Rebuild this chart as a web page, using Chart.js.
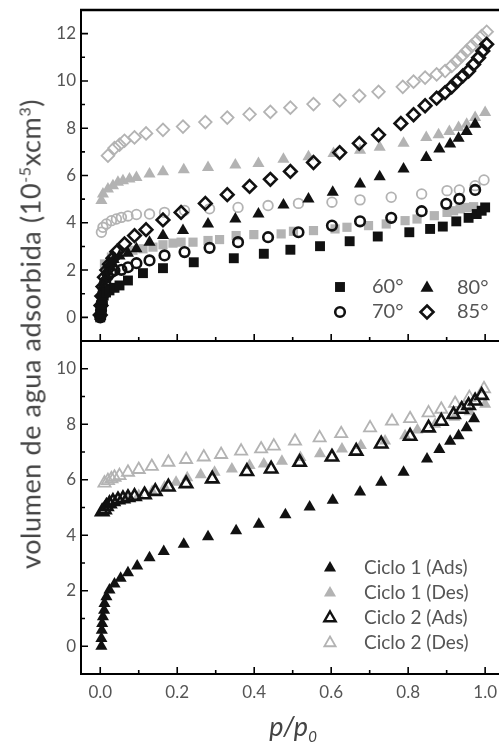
<!DOCTYPE html>
<html>
<head>
<meta charset="utf-8">
<script src="https://cdn.jsdelivr.net/npm/chart.js@4.4.0/dist/chart.umd.min.js"></script>
<style>
  body { margin: 0; background: #fff; width: 499px; height: 742px; overflow: hidden; position: relative; font-family: Lato, sans-serif; }
  canvas { position: absolute; left: 0; }
  #top { top: 0; }
  #bot { top: 341px; }
  #ytitle { position: absolute; left: 30px; top: 334px; transform: translate(-50%, -50%) rotate(-90deg);
            white-space: nowrap; font-size: 27px; letter-spacing: 0.6px; color: #444; line-height: 1; }
  #ytitle sup { font-size: 16px; vertical-align: 10px; line-height: 0; }
  #xtitle { position: absolute; left: 293px; top: 712px; transform: translateX(-50%); white-space: nowrap;
            font-size: 27px; font-style: italic; color: #444; line-height: 1; }
  #xtitle sub { font-size: 15px; vertical-align: -6px; line-height: 0; }
</style>
</head>
<body>
<canvas id="top" width="499" height="342"></canvas>
<canvas id="bot" width="499" height="401"></canvas>
<div id="ytitle">volumen de agua adsorbida (10<sup>-5</sup>xcm<sup>3</sup>)</div>
<div id="xtitle">p/p<sub>0</sub></div>
<script>
// ---- data (p/p0, volume) ----
const ads60 = [[0,0],[0.002,0.15],[0.003,0.35],[0.004,0.55],[0.006,0.75],[0.009,0.92],[0.015,1.05],[0.024,1.14],[0.037,1.25],[0.05,1.35],[0.072,1.56],[0.111,1.87],[0.163,2.08],[0.243,2.33],[0.347,2.50],[0.425,2.69],[0.494,2.86],[0.571,3.01],[0.648,3.22],[0.721,3.42],[0.803,3.60],[0.857,3.74],[0.890,3.84],[0.925,4.06],[0.957,4.21],[0.978,4.37],[0.991,4.51],[1.0,4.65]];
const des60 = [[0.011,2.26],[0.029,2.55],[0.059,2.76],[0.085,2.84],[0.111,2.90],[0.137,2.97],[0.163,3.07],[0.189,3.14],[0.210,3.18],[0.241,3.18],[0.280,3.25],[0.310,3.29],[0.353,3.46],[0.399,3.50],[0.470,3.53],[0.502,3.64],[0.554,3.67],[0.610,3.74],[0.641,3.81],[0.697,3.88],[0.743,3.95],[0.792,4.09],[0.823,4.16],[0.868,4.30],[0.901,4.44],[0.918,4.51],[0.935,4.59],[0.952,4.65],[0.970,4.68]];
const ads70 = [[0,0],[0.002,0.3],[0.004,0.6],[0.006,0.9],[0.009,1.2],[0.013,1.5],[0.02,1.75],[0.028,1.9],[0.037,1.98],[0.055,2.01],[0.072,2.12],[0.094,2.29],[0.128,2.41],[0.167,2.62],[0.219,2.76],[0.284,2.94],[0.358,3.18],[0.436,3.39],[0.515,3.60],[0.602,3.88],[0.675,4.06],[0.756,4.21],[0.835,4.49],[0.899,4.80],[0.933,5.01],[0.974,5.39]];
const des70 = [[0.003,3.60],[0.007,3.81],[0.016,3.95],[0.029,4.09],[0.042,4.16],[0.055,4.23],[0.072,4.29],[0.094,4.35],[0.128,4.37],[0.167,4.44],[0.219,4.52],[0.284,4.59],[0.358,4.65],[0.436,4.73],[0.515,4.82],[0.602,4.87],[0.675,4.97],[0.756,5.08],[0.835,5.22],[0.901,5.36],[0.933,5.39],[0.974,5.57],[0.997,5.81]];
const ads80 = [[0,0.05],[0.002,0.4],[0.004,0.8],[0.007,1.2],[0.011,1.6],[0.016,1.95],[0.024,2.25],[0.035,2.45],[0.05,2.6],[0.072,2.71],[0.094,2.90],[0.128,3.18],[0.163,3.46],[0.215,3.67],[0.280,3.95],[0.351,4.16],[0.411,4.37],[0.476,4.75],[0.541,5.01],[0.604,5.29],[0.675,5.64],[0.726,5.95],[0.788,6.27],[0.847,6.76],[0.881,7.12],[0.909,7.33],[0.931,7.58],[0.952,7.86],[0.974,8.17]];
const des80 = [[0.003,4.94],[0.007,5.22],[0.020,5.43],[0.033,5.57],[0.046,5.71],[0.059,5.78],[0.076,5.85],[0.094,5.92],[0.128,6.06],[0.163,6.16],[0.217,6.24],[0.280,6.34],[0.351,6.44],[0.411,6.51],[0.476,6.69],[0.541,6.79],[0.606,6.93],[0.675,7.07],[0.726,7.19],[0.788,7.36],[0.847,7.61],[0.879,7.72],[0.907,7.86],[0.931,8.03],[0.952,8.17],[0.974,8.45],[1.0,8.66]];
const ads85 = [[0,0.1],[0.002,0.5],[0.004,0.9],[0.007,1.3],[0.011,1.7],[0.017,2.0],[0.024,2.25],[0.033,2.5],[0.043,2.78],[0.063,3.11],[0.089,3.46],[0.119,3.71],[0.163,4.12],[0.210,4.44],[0.273,4.82],[0.330,5.19],[0.388,5.54],[0.442,5.84],[0.494,6.17],[0.554,6.55],[0.622,6.97],[0.673,7.36],[0.723,7.72],[0.781,8.20],[0.814,8.57],[0.844,8.95],[0.874,9.27],[0.896,9.51],[0.913,9.75],[0.926,9.97],[0.942,10.21],[0.957,10.42],[0.970,10.70],[0.983,10.98],[0.994,11.27],[1.004,11.55]];
const des85 = [[0.020,6.84],[0.037,7.16],[0.050,7.30],[0.063,7.47],[0.089,7.61],[0.119,7.78],[0.163,7.93],[0.215,8.07],[0.273,8.26],[0.330,8.45],[0.388,8.59],[0.442,8.69],[0.494,8.87],[0.554,9.02],[0.622,9.18],[0.673,9.37],[0.723,9.54],[0.786,9.75],[0.814,9.97],[0.844,10.14],[0.874,10.28],[0.896,10.42],[0.913,10.63],[0.926,10.84],[0.939,11.05],[0.952,11.27],[0.965,11.48],[0.978,11.69],[0.991,11.90],[1.004,12.08]];

const ads1 = [[0.003,0],[0.003,0.28],[0.004,0.58],[0.005,0.82],[0.007,1.06],[0.010,1.30],[0.011,1.54],[0.016,1.78],[0.024,2.03],[0.037,2.24],[0.053,2.45],[0.072,2.65],[0.096,2.89],[0.128,3.19],[0.165,3.41],[0.217,3.68],[0.280,3.95],[0.353,4.16],[0.412,4.40],[0.481,4.74],[0.544,5.02],[0.604,5.26],[0.675,5.56],[0.730,5.91],[0.788,6.27],[0.849,6.75],[0.881,7.09],[0.909,7.39],[0.931,7.59],[0.952,7.87],[0.971,8.20]];
const des1 = [[0.008,4.95],[0.02,5.1],[0.04,5.22],[0.07,5.32],[0.1,5.43],[0.135,5.58],[0.167,5.74],[0.197,5.91],[0.226,6.07],[0.261,6.18],[0.297,6.27],[0.342,6.39],[0.388,6.51],[0.425,6.57],[0.472,6.67],[0.52,6.80],[0.571,6.94],[0.628,7.11],[0.677,7.23],[0.74,7.40],[0.792,7.59],[0.824,7.79],[0.87,8.0],[0.92,8.25],[0.96,8.45],[1.0,8.72]];
const ads2 = [[0.005,4.85],[0.011,4.92],[0.016,5.04],[0.024,5.14],[0.033,5.22],[0.046,5.28],[0.059,5.32],[0.072,5.36],[0.089,5.40],[0.115,5.46],[0.143,5.58],[0.177,5.74],[0.223,5.86],[0.291,6.03],[0.381,6.30],[0.444,6.39],[0.518,6.63],[0.602,6.82],[0.665,7.03],[0.730,7.29],[0.805,7.57],[0.853,7.87],[0.886,8.11],[0.918,8.35],[0.939,8.54],[0.957,8.68],[0.974,8.84],[0.991,9.04]];
const des2 = [[0.011,5.88],[0.020,5.97],[0.029,6.03],[0.037,6.09],[0.050,6.15],[0.072,6.27],[0.100,6.37],[0.134,6.48],[0.177,6.63],[0.223,6.73],[0.269,6.82],[0.314,6.91],[0.366,7.03],[0.418,7.11],[0.451,7.21],[0.506,7.39],[0.570,7.51],[0.626,7.66],[0.701,7.87],[0.758,8.11],[0.805,8.20],[0.853,8.41],[0.886,8.54],[0.922,8.75],[0.959,8.96],[0.997,9.28]];

// ---- ticks / labels ----
const xTicks = [0, 0.1, 0.2, 0.3, 0.4, 0.5, 0.6, 0.7, 0.8, 0.9, 1.0];
const topYTicks = [-1, 0, 1, 2, 3, 4, 5, 6, 7, 8, 9, 10, 11, 12, 13];
const botYTicks = [-1, 0, 1, 2, 3, 4, 5, 6, 7, 8, 9, 10, 11];
const topLegend = ['60°', '80°', '70°', '85°'];
const botLegend = ['Ciclo 1 (Ads)', 'Ciclo 1 (Des)', 'Ciclo 2 (Ads)', 'Ciclo 2 (Des)'];

const BLACK = '#111';
const GRAY = '#b3b3b3';
const TXT = '#555';

const pts = arr => arr.map(p => ({ x: p[0], y: p[1] }));

function ds(data, style, r, filled, color, bw) {
    return {
        data: pts(data), showLine: false, pointStyle: style, pointRadius: r,
        pointBackgroundColor: filled ? color : 'rgba(0,0,0,0)',
        pointBorderColor: color, pointBorderWidth: filled ? 0 : bw
    };
}

// little marker painter for the hand-placed legends
function mark(ctx, style, x, y, r, filled, color, bw) {
    ctx.beginPath();
    if (style === 'rect') {
        const s = r * Math.SQRT1_2;
        ctx.rect(x - s, y - s, 2 * s, 2 * s);
    } else if (style === 'circle') {
        ctx.arc(x, y, r, 0, Math.PI * 2);
    } else if (style === 'triangle') {
        ctx.moveTo(x, y - r);
        ctx.lineTo(x + r * 0.866, y + r / 2);
        ctx.lineTo(x - r * 0.866, y + r / 2);
        ctx.closePath();
    } else {
        ctx.moveTo(x, y - r); ctx.lineTo(x + r, y); ctx.lineTo(x, y + r); ctx.lineTo(x - r, y);
        ctx.closePath();
    }
    if (filled) { ctx.fillStyle = color; ctx.fill(); }
    else { ctx.strokeStyle = color; ctx.lineWidth = bw; ctx.stroke(); }
}

// inward tick marks + frame lines
const frame = {
    id: 'frame',
    afterDraw(chart, args, opts) {
        const { ctx, chartArea: a, scales: { x, y } } = chart;
        ctx.save();
        ctx.strokeStyle = '#000';
        ctx.lineWidth = 1.6;
        ctx.beginPath();
        y.ticks.forEach(t => {
            if (t.value <= y.min || t.value >= y.max) return;
            const py = y.getPixelForValue(t.value);
            const len = t.value % 2 === 0 ? 7 : 4;
            ctx.moveTo(a.left, py); ctx.lineTo(a.left + len, py);
        });
        xTicks.forEach((v, i) => {
            const px = x.getPixelForValue(v);
            const len = i % 2 === 0 ? 7 : 4;
            ctx.moveTo(px, a.bottom); ctx.lineTo(px, a.bottom - len);
        });
        ctx.stroke();
        if (opts.top) {
            ctx.lineWidth = 2.6;
            ctx.beginPath(); ctx.moveTo(a.left - 1, a.top); ctx.lineTo(a.right, a.top); ctx.stroke();
        }
        ctx.lineWidth = 2;
        ctx.beginPath(); ctx.moveTo(a.left - 1, a.bottom); ctx.lineTo(a.right, a.bottom); ctx.stroke();

        // legend
        ctx.font = opts.legendFont;
        ctx.textBaseline = 'middle';
        ctx.textAlign = 'left';
        opts.legend.forEach(e => {
            mark(ctx, e.style, e.mx, e.y, e.r, e.filled, e.color, e.bw);
            ctx.fillStyle = TXT;
            ctx.fillText(e.label, e.tx, e.y);
        });
        ctx.restore();
    }
};

function yAxis(ticks, min, max) {
    return {
        min: min, max: max,
        afterBuildTicks: s => { s.ticks = ticks.map(v => ({ value: v })); },
        afterFit: s => { s.width = 81; s.paddingTop = 0; s.paddingBottom = 0; },
        grid: { display: false, drawTicks: false },
        border: { display: true, color: '#000', width: 2 },
        ticks: {
            padding: 5, color: TXT, font: { family: 'Lato', size: 17 },
            autoSkip: false,
            callback: v => (v % 2 === 0 && v >= 0 && v < max) ? String(v) : ''
        }
    };
}

Chart.defaults.animation = false;

new Chart(document.getElementById('top'), {
    type: 'scatter',
    data: {
        datasets: [
            ds(ads60, 'rect', 7, true, BLACK),
            ds(ads70, 'circle', 4.8, false, BLACK, 2.6),
            ds(ads80, 'triangle', 7, true, BLACK),
            ds(ads85, 'rectRot', 6.3, false, BLACK, 2.6),
            ds(des60, 'rect', 6.5, true, GRAY),
            ds(des70, 'circle', 4.8, false, GRAY, 1.8),
            ds(des80, 'triangle', 7, true, GRAY),
            ds(des85, 'rectRot', 6.3, false, GRAY, 1.8)
        ]
    },
    options: {
        responsive: false,
        layout: { autoPadding: false, padding: { top: 10, right: 0, bottom: 1, left: 0 } },
        plugins: {
            legend: { display: false }, tooltip: { enabled: false },
            frame: {
                top: true,
                legendFont: '20px Lato',
                legend: [
                    { style: 'rect', mx: 340, tx: 372, y: 287, r: 7, filled: true, color: BLACK, label: topLegend[0] },
                    { style: 'triangle', mx: 427, tx: 457, y: 288, r: 7.5, filled: true, color: BLACK, label: topLegend[1] },
                    { style: 'circle', mx: 340, tx: 372, y: 312, r: 4.8, filled: false, color: BLACK, bw: 2.6, label: topLegend[2] },
                    { style: 'rectRot', mx: 427, tx: 457, y: 312, r: 6.5, filled: false, color: BLACK, bw: 2.6, label: topLegend[3] }
                ]
            }
        },
        scales: {
            x: { type: 'linear', min: -0.05, max: 1.036, display: false },
            y: yAxis(topYTicks, -1, 13)
        }
    },
    plugins: [frame]
});

new Chart(document.getElementById('bot'), {
    type: 'scatter',
    data: {
        datasets: [
            ds(ads1, 'triangle', 7, true, BLACK),
            ds(ads2, 'triangle', 7, false, BLACK, 2.6),
            ds(des1, 'triangle', 7, true, GRAY),
            ds(des2, 'triangle', 7, false, GRAY, 1.8)
        ]
    },
    options: {
        responsive: false,
        layout: { autoPadding: false, padding: { top: 0, right: 0, bottom: 0, left: 0 } },
        plugins: {
            legend: { display: false }, tooltip: { enabled: false },
            frame: {
                top: false,
                legendFont: '19px Lato',
                legend: [
                    { style: 'triangle', mx: 330, tx: 364, y: 227, r: 7, filled: true, color: BLACK, label: botLegend[0] },
                    { style: 'triangle', mx: 330, tx: 364, y: 252, r: 7, filled: true, color: GRAY, label: botLegend[1] },
                    { style: 'triangle', mx: 330, tx: 364, y: 277, r: 6.5, filled: false, color: BLACK, bw: 2.4, label: botLegend[2] },
                    { style: 'triangle', mx: 330, tx: 364, y: 302, r: 6.5, filled: false, color: GRAY, bw: 1.8, label: botLegend[3] }
                ]
            }
        },
        scales: {
            x: {
                type: 'linear', min: -0.05, max: 1.036,
                afterBuildTicks: s => { s.ticks = xTicks.map(v => ({ value: v })); },
                afterFit: s => { s.height = 68; s.paddingLeft = 0; s.paddingRight = 0; },
                grid: { display: false, drawTicks: false },
                border: { display: true, color: '#000', width: 2 },
                ticks: {
                    padding: 8, color: TXT, font: { family: 'Lato', size: 17 },
                    autoSkip: false, maxRotation: 0,
                    callback: (v, i) => i % 2 === 0 ? v.toFixed(1) : ''
                }
            },
            y: yAxis(botYTicks, -1, 11)
        }
    },
    plugins: [frame]
});
</script>
</body>
</html>
